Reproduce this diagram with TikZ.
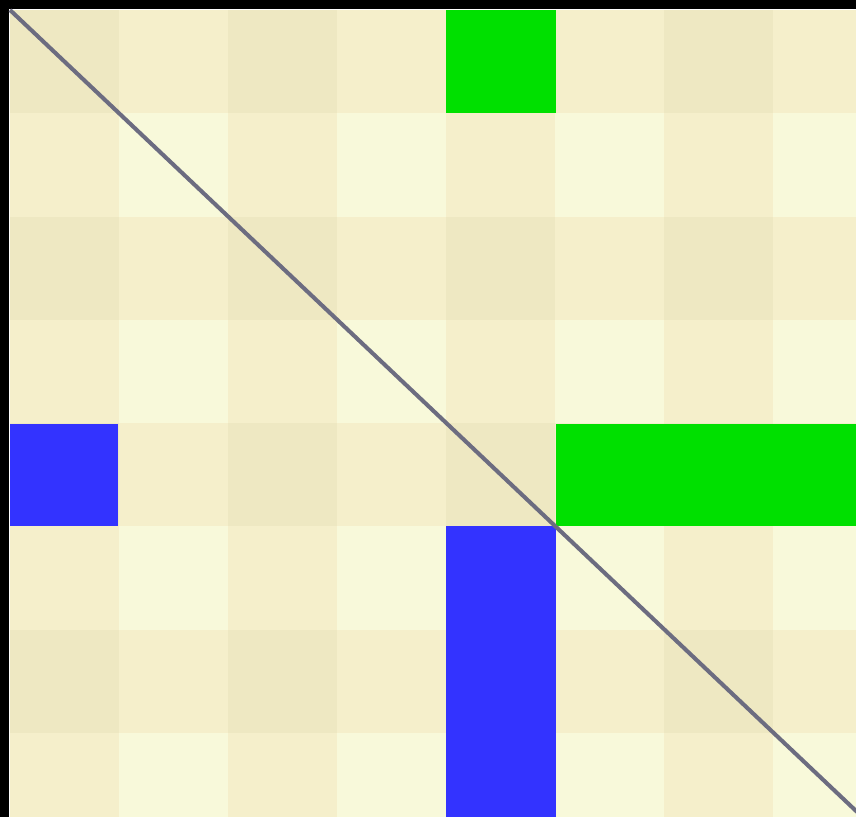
\documentclass[tikz,border=0pt]{standalone}
\usepackage{tikz}
\definecolor{CellDark}{RGB}{238,232,194}
\definecolor{CellMid}{RGB}{245,239,203}
\definecolor{CellLight}{RGB}{248,249,218}
\definecolor{MarkGreen}{RGB}{0,224,0}
\definecolor{MarkBlue}{RGB}{51,51,255}
\definecolor{DiagGray}{RGB}{108,108,128}

\begin{document}
\begin{tikzpicture}[x=0.02cm,y=-0.02cm]
\useasboundingbox (0,0) rectangle (856,817);
\clip (0,0) rectangle (856,817);
% background cells
\foreach \r in {0,...,7}{
  \foreach \c in {0,...,7}{
    \pgfmathtruncatemacro{\shade}{mod(\r,2)+mod(\c,2)}
    \ifcase\shade \def\cellcol{CellDark}\or \def\cellcol{CellMid}\else \def\cellcol{CellLight}\fi
    \fill[\cellcol] ({10+109*\c},{10+103.3*\r}) rectangle ({10+109*(\c+1)},{10+103.3*(\r+1)});
  }
}
% marked cells
\fill[MarkGreen] (446,10) rectangle (556,113);
\fill[MarkGreen] (556,424) rectangle (856,526);
\fill[MarkBlue] (10,424) rectangle (118,526);
\fill[MarkBlue] (446,526) rectangle (556,817);
% frame
\fill[black] (0,0) rectangle (856,9);
\fill[black] (0,0) rectangle (9,817);
% diagonal
\coordinate (diagstart) at (10,10);
\coordinate (diagend) at (873,827);
\draw[DiagGray,line width=2.3pt] (diagstart) -- (diagend);
\end{tikzpicture}
\end{document}
